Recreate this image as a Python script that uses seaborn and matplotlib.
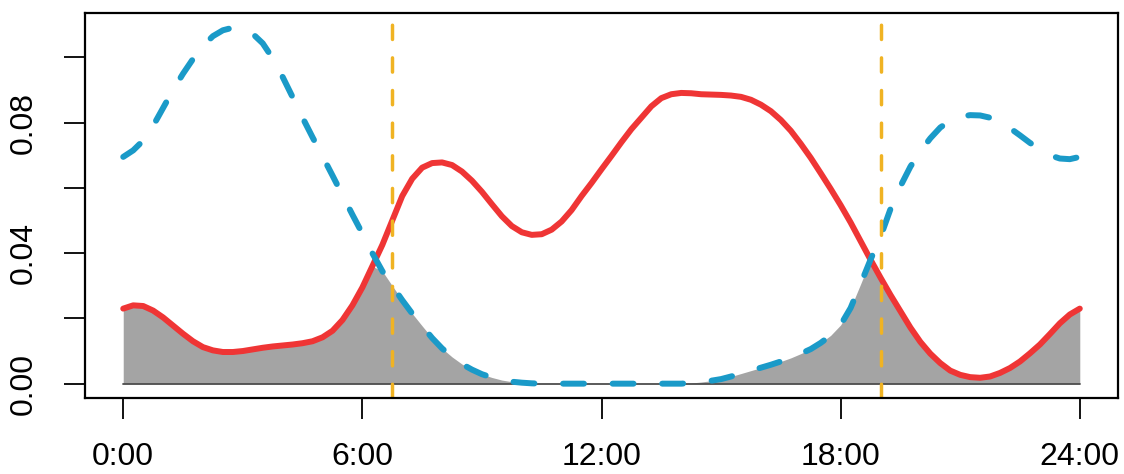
import numpy as np
import matplotlib
matplotlib.use("Agg")
import matplotlib.pyplot as plt
import seaborn as sns

# =========================
# Data (every 15 minutes)
# =========================
hours = np.arange(0, 24.01, 0.25)

# solid red curve (one row per hour)
red = [0.0230, 0.0240, 0.0238, 0.0224,   # 0h
       0.0203, 0.0178, 0.0153, 0.0130,   # 1h
       0.0112, 0.0102, 0.0097, 0.0097,   # 2h
       0.0100, 0.0105, 0.0110, 0.0114,   # 3h
       0.0117, 0.0120, 0.0124, 0.0130,   # 4h
       0.0142, 0.0162, 0.0195, 0.0240,   # 5h
       0.0295, 0.0360, 0.0425, 0.0500,   # 6h
       0.0575, 0.0628, 0.0662, 0.0676,   # 7h
       0.0678, 0.0670, 0.0650, 0.0622,   # 8h
       0.0588, 0.0550, 0.0513, 0.0483,   # 9h
       0.0464, 0.0456, 0.0458, 0.0472,   # 10h
       0.0497, 0.0532, 0.0575, 0.0615,   # 11h
       0.0657, 0.0698, 0.0740, 0.0780,   # 12h
       0.0815, 0.0850, 0.0875, 0.0887,   # 13h
       0.0891, 0.0890, 0.0887, 0.0886,   # 14h
       0.0885, 0.0883, 0.0879, 0.0870,   # 15h
       0.0855, 0.0835, 0.0808, 0.0775,   # 16h
       0.0735, 0.0692, 0.0645, 0.0597,   # 17h
       0.0547, 0.0494, 0.0437, 0.0380,   # 18h
       0.0325, 0.0272, 0.0222, 0.0172,   # 19h
       0.0128, 0.0092, 0.0063, 0.0040,   # 20h
       0.0027, 0.0020, 0.0018, 0.0022,   # 21h
       0.0033, 0.0048, 0.0068, 0.0093,   # 22h
       0.0120, 0.0152, 0.0185, 0.0212,   # 23h
       0.0230]

# dashed blue curve (one row per hour)
blue = [0.0695, 0.0715, 0.0745, 0.0790,  # 0h
        0.0845, 0.0900, 0.0950, 0.0995,  # 1h
        0.1035, 0.1065, 0.1083, 0.1091,  # 2h
        0.1088, 0.1072, 0.1043, 0.0997,  # 3h
        0.0940, 0.0878, 0.0815, 0.0755,  # 4h
        0.0697, 0.0638, 0.0578, 0.0518,  # 5h
        0.0460, 0.0400, 0.0345, 0.0300,  # 6h
        0.0256, 0.0215, 0.0177, 0.0140,  # 7h
        0.0108, 0.0082, 0.0060, 0.0043,  # 8h
        0.0029, 0.0019, 0.0011, 0.0006,  # 9h
        0.0003, 0.0001, 0.0000, 0.0000,  # 10h
        0.0000, 0.0000, 0.0000, 0.0000,  # 11h
        0.0000, 0.0000, 0.0000, 0.0000,  # 12h
        0.0000, 0.0000, 0.0000, 0.0000,  # 13h
        0.0000, 0.0002, 0.0005, 0.0009,  # 14h
        0.0014, 0.0022, 0.0031, 0.0040,  # 15h
        0.0049, 0.0058, 0.0068, 0.0079,  # 16h
        0.0092, 0.0106, 0.0125, 0.0148,  # 17h
        0.0180, 0.0232, 0.0305, 0.0380,  # 18h
        0.0450, 0.0535, 0.0605, 0.0665,  # 19h
        0.0712, 0.0752, 0.0785, 0.0806,  # 20h
        0.0818, 0.0823, 0.0822, 0.0815,  # 21h
        0.0802, 0.0783, 0.0761, 0.0738,  # 22h
        0.0718, 0.0700, 0.0690, 0.0688,  # 23h
        0.0695]

# vertical cut-off times
cutoffs = [6.75, 19.0]

x_ticks = [0, 6, 12, 18, 24]
x_labels = ["0:00", "6:00", "12:00", "18:00", "24:00"]
y_ticks = [0.00, 0.02, 0.04, 0.06, 0.08, 0.10]
y_labels = ["0.00", "", "0.04", "", "0.08", ""]

# =========================
# Plot
# =========================
sns.set_theme(style="white")
plt.rcParams['font.family'] = ['Liberation Sans', 'DejaVu Sans']

fig, ax = plt.subplots(figsize=(11.24, 4.74), dpi=100)
fig.subplots_adjust(left=0.0756, right=0.9947, bottom=0.1603, top=0.9726)

# overlap area under both curves
ax.fill_between(hours, 0, np.minimum(red, blue), color="#A4A4A4", linewidth=0)
ax.plot([hours[0], hours[-1]], [0, 0], color="#4d4d4d", linewidth=1.3)

sns.lineplot(x=hours, y=red, color="#EF3535", linewidth=4.3,
             solid_capstyle="round", solid_joinstyle="round", ax=ax)
sns.lineplot(x=hours, y=blue, color="#1A9AC8", linewidth=4.3,
             linestyle=(0, (3.5, 4.8)), dash_capstyle="round",
             dash_joinstyle="round", ax=ax)

for c in cutoffs:
    ax.axvline(c, color="#F0B323", linewidth=2.5,
               linestyle=(0, (4.1, 5.3)), dash_capstyle="round")

ax.set_xlim(-0.96, 24.96)
ax.set_ylim(-0.0044, 0.1136)
ax.set_xticks(x_ticks)
ax.set_xticklabels(x_labels)
ax.set_yticks(y_ticks)
ax.set_yticklabels(y_labels)

ax.tick_params(axis="both", direction="out", length=15, width=1.3,
               color="black", labelsize=23, labelcolor="black",
               bottom=True, left=True)
ax.tick_params(axis="x", pad=17)
ax.tick_params(axis="y", pad=18, labelrotation=90)
for lbl in ax.get_yticklabels():
    lbl.set_va("center")

for s in ax.spines.values():
    s.set_color("black")
    s.set_linewidth(1.6)

ax.set_xlabel("")
ax.set_ylabel("")

plt.savefig("out.png", dpi=100)
